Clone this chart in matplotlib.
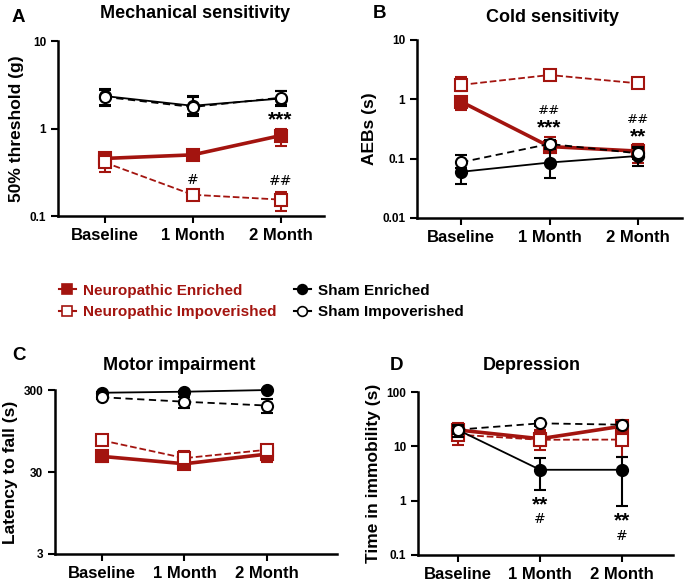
import matplotlib
matplotlib.use('Agg')
import matplotlib.pyplot as plt
from matplotlib.lines import Line2D
import numpy as np

plt.rcParams['font.family'] = ['Liberation Sans', 'DejaVu Sans']
plt.rcParams['font.weight'] = 'bold'
plt.rcParams['axes.labelweight'] = 'bold'
plt.rcParams['axes.titleweight'] = 'bold'

RED = '#a3140f'
BLACK = '#000000'
W, H = 685, 581

timepoints = ['Baseline', '1 Month', '2 Month']
groups = ['Neuropathic Enriched', 'Neuropathic Impoverished', 'Sham Enriched', 'Sham Impoverished']

# Mechanical sensitivity: mean, lower error end, upper error end
mech_mean = {
    'Neuropathic Enriched': [0.455, 0.50, 0.83],
    'Neuropathic Impoverished': [0.41, 0.175, 0.154],
    'Sham Enriched': [2.35, 1.82, 2.2],
    'Sham Impoverished': [2.3, 1.76, 2.25],
}
mech_lo = {
    'Neuropathic Enriched': [0.40, 0.47, 0.635],
    'Neuropathic Impoverished': [0.32, 0.165, 0.113],
    'Sham Enriched': [1.85, 1.4, 1.8],
    'Sham Impoverished': [1.8, 1.45, 1.85],
}
mech_hi = {
    'Neuropathic Enriched': [0.50, 0.53, 1.0],
    'Neuropathic Impoverished': [0.48, 0.185, 0.186],
    'Sham Enriched': [2.8, 2.35, 2.7],
    'Sham Impoverished': [2.75, 2.3, 2.65],
}

# Cold sensitivity (AEBs)
cold_mean = {
    'Neuropathic Enriched': [0.91, 0.16, 0.134],
    'Neuropathic Impoverished': [1.75, 2.57, 1.86],
    'Sham Enriched': [0.06, 0.086, 0.111],
    'Sham Impoverished': [0.087, 0.177, 0.123],
}
cold_lo = {
    'Neuropathic Enriched': [0.66, 0.123, 0.083],
    'Neuropathic Impoverished': [1.4, 2.4, 1.75],
    'Sham Enriched': [0.037, 0.048, 0.076],
    'Sham Impoverished': [0.07, 0.15, 0.10],
}
cold_hi = {
    'Neuropathic Enriched': [1.1, 0.235, 0.18],
    'Neuropathic Impoverished': [2.4, 2.75, 1.95],
    'Sham Enriched': [0.083, 0.144, 0.16],
    'Sham Impoverished': [0.115, 0.21, 0.15],
}

# Motor impairment (latency to fall)
motor_mean = {
    'Neuropathic Enriched': [46.5, 37.8, 49.6],
    'Neuropathic Impoverished': [72.9, 44.3, 56.0],
    'Sham Enriched': [278, 286, 300],
    'Sham Impoverished': [245, 216, 194],
}
motor_lo = {
    'Neuropathic Enriched': [40, 33, 40],
    'Neuropathic Impoverished': [70, 40, 50],
    'Sham Enriched': [270, 280, 295],
    'Sham Impoverished': [230, 180, 156],
}
motor_hi = {
    'Neuropathic Enriched': [50, 41, 56],
    'Neuropathic Impoverished': [76, 54.5, 60],
    'Sham Enriched': [286, 292, 305],
    'Sham Impoverished': [260, 249, 236],
}

# Depression (time in immobility)
dep_mean = {
    'Neuropathic Enriched': [20, 13.8, 23.5],
    'Neuropathic Impoverished': [16.4, 13.2, 13.3],
    'Sham Enriched': [20, 3.7, 3.7],
    'Sham Impoverished': [20.3, 26.5, 25],
}
dep_lo = {
    'Neuropathic Enriched': [15, 10, 18],
    'Neuropathic Impoverished': [10.7, 8.7, 6.4],
    'Sham Enriched': [15, 1.6, 0.79],
    'Sham Impoverished': [17, 24, 22],
}
dep_hi = {
    'Neuropathic Enriched': [25, 19, 28],
    'Neuropathic Impoverished': [27, 20, 25],
    'Sham Enriched': [25, 6.1, 6.3],
    'Sham Impoverished': [24, 29, 28],
}

# significance marks: (x index, y value, text, size)
mech_marks = [(2, 1.25, '***', 15), (1, 0.26, '#', 10), (2, 0.25, '##', 10)]
cold_marks = [(1, 0.65, '##', 9.5), (1, 0.33, '***', 15), (2, 0.45, '##', 9.5), (2, 0.23, '**', 15)]
dep_marks = [(1, 0.85, '**', 15), (1, 0.45, '#', 10), (2, 0.42, '**', 15), (2, 0.22, '#', 10)]

styles = {
    'Neuropathic Enriched': dict(color=RED, ls='-', lw=2.6, marker='s', mfc=RED, z=3),
    'Neuropathic Impoverished': dict(color=RED, ls='--', lw=1.3, marker='s', mfc='white', z=4),
    'Sham Enriched': dict(color=BLACK, ls='-', lw=1.3, marker='o', mfc=BLACK, z=5),
    'Sham Impoverished': dict(color=BLACK, ls=(0, (4, 2.5)), lw=1.3, marker='o', mfc='white', z=6),
}

fig = plt.figure(figsize=(6.85, 5.81), dpi=100)

panels = [
    dict(rect=[0.0847, 0.6282, 0.389, 0.3012], xlim=(-0.53, 2.5), ylim=(0.1, 10),
         yt=[0.1, 1, 10], ytl=['0.1', '1', '10'], ylabel='50% threshold (g)',
         title='Mechanical sensitivity', tpos=(195, 13), letter='A', lpos=(12, 18),
         mean=mech_mean, lo=mech_lo, hi=mech_hi, marks=mech_marks),
    dict(rect=[0.6088, 0.6248, 0.3868, 0.3064], xlim=(-0.5, 2.5), ylim=(0.01, 10),
         yt=[0.01, 0.1, 1, 10], ytl=['0.01', '0.1', '1', '10'], ylabel='AEBs (s)',
         title='Cold sensitivity', tpos=(553, 18), letter='B', lpos=(373, 14),
         mean=cold_mean, lo=cold_lo, hi=cold_hi, marks=cold_marks),
    dict(rect=[0.0803, 0.0465, 0.4117, 0.2822], xlim=(-0.57, 2.85), ylim=(3, 300),
         yt=[3, 30, 300], ytl=['3', '30', '300'], ylabel='Latency to fall (s)',
         title='Motor impairment', tpos=(179, 365), letter='C', lpos=(12, 355),
         mean=motor_mean, lo=motor_lo, hi=motor_hi, marks=[]),
    dict(rect=[0.610, 0.0448, 0.3725, 0.2805], xlim=(-0.49, 2.62), ylim=(0.1, 100),
         yt=[0.1, 1, 10, 100], ytl=['0.1', '1', '10', '100'], ylabel='Time in immobility (s)',
         title='Depression', tpos=(532, 365), letter='D', lpos=(390, 365),
         mean=dep_mean, lo=dep_lo, hi=dep_hi, marks=dep_marks),
]

x = np.arange(len(timepoints))

for p in panels:
    ax = fig.add_axes(p['rect'])
    for g in groups:
        st = styles[g]
        m = np.array(p['mean'][g])
        lo = m - np.array(p['lo'][g])
        hi = np.array(p['hi'][g]) - m
        ax.errorbar(x, m, yerr=[lo, hi], color=st['color'], ls=st['ls'], lw=st['lw'],
                    marker=st['marker'], mfc=st['mfc'], mec=st['color'], mew=1.5, ms=8,
                    elinewidth=1.5, capsize=4, capthick=1.5, zorder=st['z'], clip_on=False)
    ax.set_yscale('log')
    ax.set_xlim(*p['xlim'])
    ax.set_ylim(*p['ylim'])
    ax.set_yticks(p['yt'])
    ax.set_yticklabels(p['ytl'], fontsize=8.5)
    ax.yaxis.set_minor_locator(matplotlib.ticker.NullLocator())
    ax.set_xticks(x)
    ax.set_xticklabels(timepoints, fontsize=12)
    for s in ['top', 'right']:
        ax.spines[s].set_visible(False)
    for s in ['left', 'bottom']:
        ax.spines[s].set_linewidth(1.8)
    ax.tick_params(width=1.5, length=5, direction='out')
    ax.set_ylabel(p['ylabel'], fontsize=12.5, labelpad=4)
    fig.text(p['tpos'][0] / W, 1 - p['tpos'][1] / H, p['title'], fontsize=13,
             ha='center', va='center')
    fig.text(p['lpos'][0] / W, 1 - p['lpos'][1] / H, p['letter'], fontsize=13.5,
             ha='left', va='center')
    for xi, yv, txt, sz in p['marks']:
        ax.text(xi, yv, txt, ha='center', va='center', fontsize=sz, zorder=10,
                family='DejaVu Sans' if '#' in txt else None,
                weight='normal' if '#' in txt else 'bold')

handles = []
for g in groups:
    st = styles[g]
    handles.append(Line2D([], [], color=st['color'], ls='-', lw=1.5, marker=st['marker'],
                          mfc=st['mfc'], mec=st['color'], mew=1.2, ms=7))
leg = fig.legend(handles, groups, loc='center left', bbox_to_anchor=(59 / W, 0.481), ncol=2,
                 frameon=False, handlelength=1.1, handletextpad=0.5, columnspacing=1.1,
                 labelspacing=0.5, borderpad=0, borderaxespad=0,
                 prop=dict(family='Liberation Sans', weight='bold', size=11),
                 labelcolor=[RED, RED, BLACK, BLACK])

fig.savefig('out.png', dpi=100)
